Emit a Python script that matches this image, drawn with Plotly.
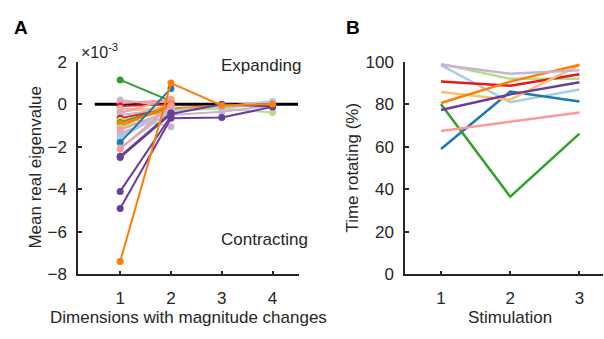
import plotly.graph_objects as go

# ---------- colours (Paired palette) ----------
PAL = {
    "lb": "#a6cee3", "b": "#1f78b4", "lg": "#b2df8a", "g": "#33a02c",
    "pk": "#fb9a99", "r": "#e31a1c", "lo": "#fdbf6f", "o": "#ff7f00",
    "lp": "#cab2d6", "p": "#6a3d9a",
}

# ---------- Panel A data (x 1e-3) ----------
a_dims = [1, 2, 3, 4]
a_colors = ["g", "lp", "pk", "r", "lp", "lo", "pk", "lp", "lp", "r",
            "lg", "g", "o", "o", "lg", "pk", "lp", "lp", "lb", "b",
            "lb", "pk", "p", "p", "p", "p", "o"]
a_values = [
    [1.15, 0.15],
    [0.2, -0.1],
    [0.05, 0.2],
    [-0.08, 0.0],
    [-0.2, -0.3, -0.15, 0.0],
    [-0.35, -0.1],
    [-0.4, 0.25],
    [-0.5, -0.2],
    [-0.6, -1.05],
    [-0.65, -0.2],
    [-0.75, -0.3, -0.2, -0.38],
    [-0.85, -0.1],
    [-0.9, -0.2, -0.05, 0.0],
    [-1.05, 0.0],
    [-1.1, -0.4],
    [-1.2, -0.3],
    [-1.35, -0.5, -0.35, -0.05],
    [-1.5, -0.15],
    [-1.6, -0.2],
    [-1.8, 0.75],
    [-2.05, -0.3, -0.1, 0.15],
    [-2.1, -0.05],
    [-2.5, -0.45, 0.0, -0.1],
    [-4.1, -0.55],
    [-4.9, -0.65, -0.62, -0.12],
    [-2.45, -0.4],
    [-7.4, 1.0, -0.05, 0.02],
]
a_ticks_y = [-8, -6, -4, -2, 0, 2]
a_ticks_x = [1, 2, 3, 4]

# ---------- Panel B data (%) ----------
b_stim = [1, 2, 3]
b_colors = ["lb", "b", "lg", "g", "pk", "r", "lo", "o", "lp", "p"]
b_values = [
    [98.5, 81.0, 87.0],
    [59.0, 86.0, 81.3],
    [99.0, 92.0, 92.0],
    [80.0, 36.5, 66.2],
    [67.5, 72.0, 76.2],
    [90.8, 88.8, 94.2],
    [85.8, 82.2, 98.5],
    [80.6, 90.7, 98.6],
    [98.6, 94.4, 96.1],
    [77.3, 84.7, 90.4],
]
b_ticks_y = [0, 20, 40, 60, 80, 100]

W, H = 604, 339
def px(x):
    return x / W
def py(y):
    return (H - y) / H

FONT = "Liberation Sans, Arial, sans-serif"
TXT = "#262626"
FS = 17

fig = go.Figure()

# zero reference line (drawn first)
fig.add_trace(go.Scatter(x=[0.5, 4.5], y=[0, 0], mode="lines",
                         line=dict(color="black", width=3),
                         xaxis="x", yaxis="y", showlegend=False, hoverinfo="skip"))

for c, vals in zip(a_colors, a_values):
    fig.add_trace(go.Scatter(
        x=a_dims[:len(vals)], y=vals, mode="lines+markers",
        line=dict(color=PAL[c], width=2),
        marker=dict(color=PAL[c], size=7),
        xaxis="x", yaxis="y", showlegend=False))

for c, vals in zip(b_colors, b_values):
    fig.add_trace(go.Scatter(
        x=b_stim, y=vals, mode="lines",
        line=dict(color=PAL[c], width=2.5),
        xaxis="x2", yaxis="y2", showlegend=False))

ax_common = dict(showline=True, linecolor=TXT, linewidth=1.5, ticks="inside",
                 ticklen=4, tickwidth=1.5, tickcolor=TXT, showgrid=False,
                 zeroline=False, mirror=False,
                 tickfont=dict(family=FONT, size=FS, color=TXT))

fig.update_layout(
    width=W, height=H, margin=dict(l=0, r=0, t=0, b=0),
    paper_bgcolor="white", plot_bgcolor="white",
    xaxis=dict(domain=[px(78), px(299)], range=[0.17, 4.52], tickvals=a_ticks_x,
               anchor="y", ticklabelstandoff=8, **ax_common),
    yaxis=dict(domain=[py(281), py(56)], range=[-8, 2], tickvals=a_ticks_y,
               anchor="x", ticklabelstandoff=6, **ax_common),
    xaxis2=dict(domain=[px(405), px(603)], range=[0.48, 3.34], tickvals=b_stim,
                anchor="y2", ticklabelstandoff=8, **ax_common),
    yaxis2=dict(domain=[py(281), py(56)], range=[0, 100], tickvals=b_ticks_y,
                anchor="x2", ticklabelstandoff=6, **ax_common),
)

def ann(text, x, y, size=FS, bold=False, angle=0, xanchor="center"):
    fig.add_annotation(text=("<b>%s</b>" % text) if bold else text,
                       x=px(x), y=py(y), xref="paper", yref="paper",
                       showarrow=False, textangle=angle, xanchor=xanchor,
                       yanchor="middle",
                       font=dict(family=FONT, size=size, color="black" if bold else TXT))

ann("A", 21, 20, size=19, bold=True)
ann("B", 353, 20, size=19, bold=True)
ann("×10<sup>-3</sup>", 79, 45, size=16, xanchor="left")
ann("Expanding", 261, 60)
ann("Contracting", 264, 244)
ann("Dimensions with magnitude changes", 188, 327)
ann("Stimulation", 510, 327)
ann("Mean real eigenvalue", 36, 168, angle=-90)
ann("Time rotating (%)", 353, 168, angle=-90)

post = ("document.documentElement.style.margin='0';"
        "document.body.style.margin='0';document.body.style.overflow='hidden';"
        "var d=document.getElementById('{plot_id}');"
        "d.style.position='fixed';d.style.top='0px';d.style.left='0px';")

fig.write_html("out.html", config={"displayModeBar": False}, post_script=post)
